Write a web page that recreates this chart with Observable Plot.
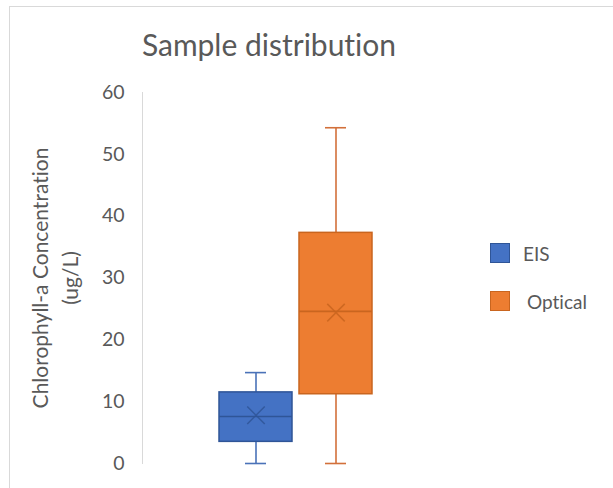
<!DOCTYPE html>
<html>
<head>
<meta charset="utf-8">
<script src="https://cdn.jsdelivr.net/npm/d3@7"></script>
<script src="https://cdn.jsdelivr.net/npm/@observablehq/plot@0.6"></script>
<style>
  html, body { margin: 0; padding: 0; background: #fff; }
  #chart { position: relative; width: 613px; height: 488px; overflow: hidden;
           font-family: Lato, "Open Sans", sans-serif; color: #595959;
           font-variant-ligatures: none; }
  #edge { position: absolute; left: 9px; top: 6px; right: -2px; bottom: -2px;
          border-top: 1px solid #d9d9d9; border-left: 1px solid #d9d9d9; }
  #title { position: relative; height: 80px; box-sizing: border-box; padding-top: 26px;
           width: 538px; text-align: center; font-size: 30px; line-height: 36px; }
  #legend { position: absolute; left: 490px; top: 243px; font-size: 19px; }
  .item { display: flex; align-items: center; height: 20px; margin-bottom: 28px; }
  .swatch { width: 18px; height: 18px; margin-right: 13px; }
  svg text { font-variant-ligatures: none; }
</style>
</head>
<body>
<div id="chart">
  <div id="edge"></div>
  <div id="title">Sample distribution</div>
  <div id="plot"></div>
  <div id="legend"></div>
</div>
<script>
// Summary statistics of the two measurement methods (ug/L)
const categories = ["EIS", "Optical"];
const mins    = [0, 0];
const q1s     = [3.5, 11.2];
const medians = [7.6, 24.6];
const q3s     = [11.5, 37.3];
const maxs    = [14.7, 54.3];
const means   = [7.8, 24.4];
const yTicks  = [0, 10, 20, 30, 40, 50, 60];
const yLabel  = "Chlorophyll-a Concentration\n(ug/L)";

const fills   = ["#4472C4", "#ED7D31"];
const strokes = ["#2F5597", "#C9651F"];
const whisker = ["#4A72B8", "#D2703A"];

const rows = categories.map((c, i) => ({
  cat: c, min: mins[i], q1: q1s[i], median: medians[i], q3: q3s[i], max: maxs[i], mean: means[i]
}));

const plot = Plot.plot({
  width: 613,
  height: 408,
  marginTop: 12,
  marginBottom: 25,
  marginLeft: 142,
  marginRight: 165,
  style: {background: "transparent", color: "#595959", fontFamily: "Lato, 'Open Sans', sans-serif", fontSize: "19px"},
  x: {domain: categories, range: [219, 372], paddingInner: 0.09, paddingOuter: 0, axis: null},
  y: {domain: [0, 60]},
  marks: [
    Plot.frame({anchor: "left", stroke: "#d9d9d9", strokeOpacity: 1}),
    Plot.axisY(yTicks, {tickSize: 0, tickPadding: 18, label: null, fontSize: 19.5}),
    Plot.text([yLabel], {frameAnchor: "left", textAnchor: "middle", lineAnchor: "middle", rotate: -90, dx: -89, lineHeight: 1.42, fontSize: 21, fill: "#595959"}),
    // whiskers
    Plot.ruleX(rows, {x: "cat", y1: "min", y2: "q1", stroke: (d, i) => whisker[i], strokeWidth: 1.6}),
    Plot.ruleX(rows, {x: "cat", y1: "q3", y2: "max", stroke: (d, i) => whisker[i], strokeWidth: 1.6}),
    Plot.tickY(rows, {x: "cat", y: "min", stroke: (d, i) => whisker[i], strokeWidth: 1.6, inset: 26}),
    Plot.tickY(rows, {x: "cat", y: "max", stroke: (d, i) => whisker[i], strokeWidth: 1.6, inset: 26}),
    // boxes
    Plot.barY(rows, {x: "cat", y1: "q1", y2: "q3", fill: (d, i) => fills[i], stroke: (d, i) => strokes[i], strokeWidth: 1.5}),
    Plot.tickY(rows, {x: "cat", y: "median", stroke: (d, i) => strokes[i], strokeWidth: 1.6}),
    Plot.dot(rows, {x: "cat", y: "mean", symbol: "times", r: 8, stroke: (d, i) => strokes[i], strokeWidth: 1.5, strokeOpacity: 0.85})
  ]
});
document.getElementById("plot").appendChild(plot);

// legend
const legend = document.getElementById("legend");
categories.forEach((c, i) => {
  const item = document.createElement("div");
  item.className = "item";
  const sw = document.createElement("span");
  sw.className = "swatch";
  sw.style.background = fills[i];
  sw.style.border = `1px solid ${strokes[i]}`;
  const label = document.createElement("span");
  label.textContent = c;
  if (i === 1) label.style.marginLeft = "4px";
  item.appendChild(sw);
  item.appendChild(label);
  legend.appendChild(item);
});
</script>
</body>
</html>
